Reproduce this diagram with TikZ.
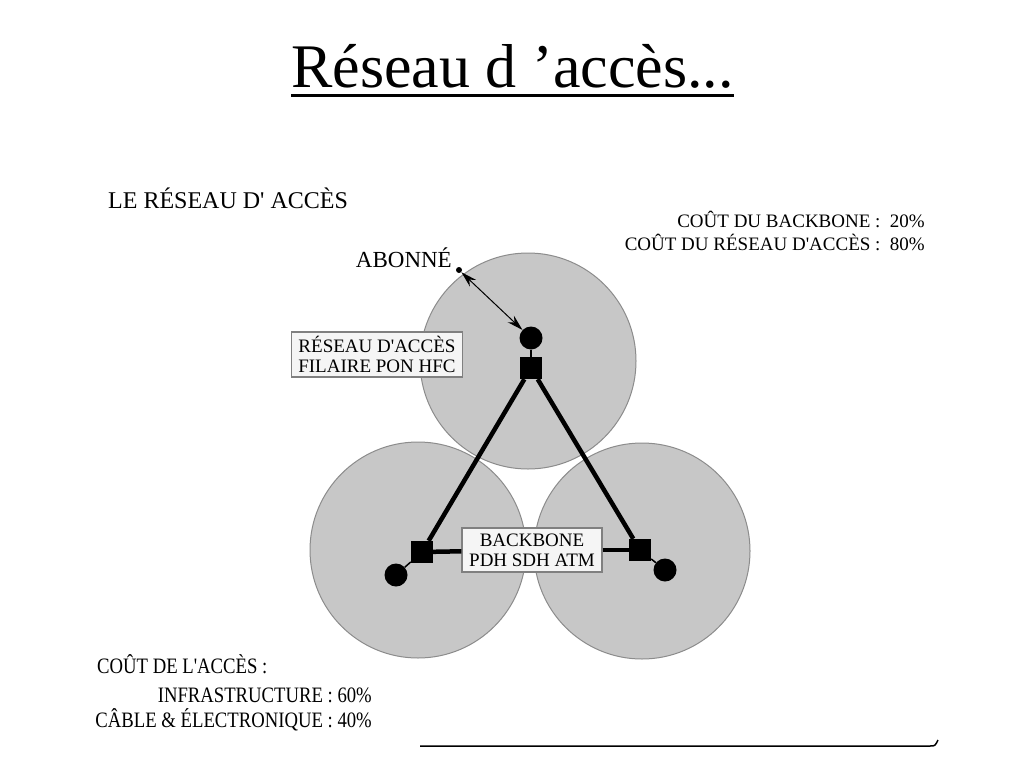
\documentclass[tikz,border=0pt]{standalone}
\usepackage{fontspec}
\setmainfont{Liberation Serif}
\newfontfamily\narrowfont[FakeStretch=0.85]{Liberation Serif}
\usetikzlibrary{arrows.meta}
\tikzset{
  zone/.style={circle, draw=black!45, line width=1pt, fill=black!22, minimum size=216pt, inner sep=0pt},
  site/.style={circle, fill=black, minimum size=23pt, inner sep=0pt},
  switch/.style={rectangle, fill=black, minimum size=22pt, inner sep=0pt},
  tagbox/.style={rectangle, draw=black!50, line width=1.2pt, fill=black!4, align=center, inner sep=2pt, font=\fontsize{19}{20}\selectfont},
  trunk/.style={line width=4.5pt},
  drop/.style={line width=1.5pt},
  txt/.style={inner sep=0pt}
}
\begin{document}
\begin{tikzpicture}[x=1pt, y=-1pt]
\useasboundingbox (0,0) rectangle (1024,768);
% titre
\node (0) [txt, anchor=base, font=\fontsize{62}{62}\selectfont] at (512.5,87) {Réseau d ’accès...};
\draw [line width=3pt] ([yshift=-8.5pt]0.base west) -- ([yshift=-8.5pt]0.base east);

% zones
\node (1) [zone] at (418,550) {};
\node (2) [zone] at (642,551) {};
\node (3) [zone] at (528,361) {};

\node (4) [switch] at (531,368) {};
\node (5) [switch] at (422,552) {};
\node (6) [switch] at (640,550) {};

\node (7) [site, node distance=30pt, above of=4] {};
\node (8) [site] at (396,575) {};
\node (9) [site] at (665,570) {};

\node (10) [circle, fill=black, minimum size=6pt, inner sep=0pt] at (459,270) {};
\node (11) [txt, anchor=base east, font=\fontsize{23}{23}\selectfont] at (452,267) {ABONNÉ};

\node (12) [tagbox, minimum width=171pt, minimum height=45pt] at (377,354.5) {RÉSEAU D\textquotesingle ACCÈS\\FILAIRE PON HFC};
\node (13) [tagbox, minimum width=140pt, minimum height=44pt] at (532,550) {BACKBONE\\PDH SDH ATM};

% legendes
\node (14) [txt, anchor=base west, font=\fontsize{24}{24}\selectfont] at (108,208) {LE RÉSEAU D\textquotesingle{} ACCÈS};
\node (15) [txt, anchor=base east, font=\fontsize{19}{19}\selectfont] at (925,227) {COÛT DU BACKBONE :~~20\%};
\node (16) [txt, anchor=base east, font=\fontsize{19}{19}\selectfont] at (925,250) {COÛT DU RÉSEAU D\textquotesingle ACCÈS :~~80\%};
\node (17) [txt, anchor=base west, font=\narrowfont\fontsize{22}{22}\selectfont] at (97,673) {COÛT DE L'ACCÈS :};
\node (18) [txt, anchor=base east, font=\narrowfont\fontsize{22}{22}\selectfont] at (372,702) {INFRASTRUCTURE : 60\%};
\node (19) [txt, anchor=base east, font=\narrowfont\fontsize{22}{22}\selectfont] at (372,727) {CÂBLE \& ÉLECTRONIQUE : 40\%};

\draw [trunk] (4) to (5);
\draw [trunk] (4) to (6);
\draw [trunk] (5) to (13);
\draw [trunk] (13) to (6);

\draw [drop] (7) to (4);
\draw [drop] (8) to (5);
\draw [drop] (6) to (9);

\draw [{Stealth[length=16pt,width=9pt]}-{Stealth[length=16pt,width=9pt]}, line width=1pt] (10) to (7);

\coordinate (20) at (420,746);
\coordinate (21) at (938,740);
\draw [line width=1.5pt] (20) -- (930,746) .. controls (935,746) .. (21);
\end{tikzpicture}
\end{document}
